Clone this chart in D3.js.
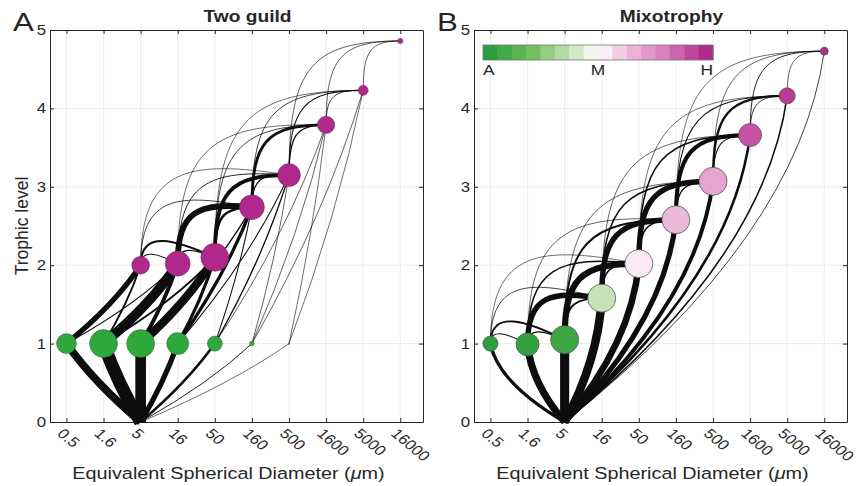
<!DOCTYPE html>
<html>
<head>
<meta charset="utf-8">
<script src="https://cdn.jsdelivr.net/npm/d3@7"></script>
<style>
  body { margin: 0; background: #fff; }
  svg { display: block; }
  text { font-family: "Liberation Sans", Arial, Helvetica, sans-serif; fill: #262626; }
</style>
</head>
<body>
<svg id="fig" width="857" height="486"></svg>
<script>
// ---- size classes (equivalent spherical diameter, µm), half-decade steps ----
const sizeLabels = ["0.5", "1.6", "5", "16", "50", "160", "500", "1600", "5000", "16000"];
const sizeValues = sizeLabels.map((_, i) => 0.5 * Math.pow(10, i / 2));
const levelTicks = [0, 1, 2, 3, 4, 5];

// nutrient source: drawn under the 5 µm class at trophic level 0
const sourceClass = 2;
const sourceLevel = 0;

// ---- Two guild model ----
// autotrophs (classes 0..6)
const autoClass   = [0, 1, 2, 3, 4, 5, 6];
const autoLevel   = [1, 1, 1, 1, 1, 1, 1];
const autoBiomass = [0.51, 1.0, 1.0, 0.62, 0.29, 0.03, 0.004];
// heterotrophs (classes 2..9)
const hetClass    = [2, 3, 4, 5, 6, 7, 8, 9];
const hetLevel    = [2.0, 2.02, 2.1, 2.74, 3.15, 3.79, 4.23, 4.86];
const hetBiomass  = [0.41, 0.8, 1.0, 0.8, 0.67, 0.39, 0.13, 0.035];

// nutrient uptake: [autotroph class, flux]
const guildUptake = [[0, 0.6], [1, 1.0], [2, 0.82], [3, 0.4], [4, 0.2], [5, 0.07], [6, 0.03]];
// grazing on autotrophs: [prey class, predator class, flux]
const guildGrazeAuto = [
  [0, 2, 0.4], [0, 3, 0.08],
  [1, 2, 0.15], [1, 3, 0.75], [1, 4, 0.15],
  [2, 3, 0.3], [2, 4, 0.65], [2, 5, 0.1],
  [3, 4, 0.25], [3, 5, 0.25], [3, 6, 0.08],
  [4, 5, 0.08], [4, 6, 0.1], [4, 7, 0.05],
  [5, 6, 0.05], [5, 7, 0.05], [5, 8, 0.05],
  [6, 7, 0.04], [6, 8, 0.04]
];
// grazing on heterotrophs: [prey class, predator class, flux]
const guildGrazeHet = [
  [2, 3, 0.08], [2, 4, 0.15], [2, 5, 0.06], [2, 6, 0.04],
  [3, 4, 0.1], [3, 5, 0.45], [3, 6, 0.07], [3, 7, 0.04],
  [4, 5, 0.2], [4, 6, 0.3], [4, 7, 0.06], [4, 8, 0.04],
  [5, 6, 0.1], [5, 7, 0.22], [5, 8, 0.06],
  [6, 7, 0.1], [6, 8, 0.08], [6, 9, 0.05],
  [7, 8, 0.06], [7, 9, 0.05],
  [8, 9, 0.05]
];

// ---- Mixotrophy model (classes 0..9) ----
const mixLevel    = [1.0, 0.99, 1.05, 1.58, 2.02, 2.58, 3.07, 3.66, 4.16, 4.73];
const mixBiomass  = [0.29, 0.67, 1.0, 1.0, 1.0, 1.0, 1.0, 0.67, 0.33, 0.08];
// trophic strategy: 0 = autotroph, 0.5 = mixotroph, 1 = heterotroph
const mixStrategy = [0.03, 0.05, 0.08, 0.38, 0.54, 0.64, 0.69, 0.88, 0.93, 0.96];
// nutrient uptake: [class, flux]
const mixUptake = [[0, 0.25], [1, 0.55], [2, 0.7], [3, 0.65], [4, 0.5], [5, 0.4], [6, 0.3], [7, 0.2], [8, 0.12], [9, 0.06]];
// grazing: [prey class, predator class, flux]
const mixGraze = [
  [0, 1, 0.08], [0, 2, 0.15], [0, 3, 0.06], [0, 4, 0.04],
  [1, 2, 0.1], [1, 3, 0.42], [1, 4, 0.12], [1, 5, 0.05],
  [2, 3, 0.15], [2, 4, 0.48], [2, 5, 0.15], [2, 6, 0.05],
  [3, 4, 0.12], [3, 5, 0.42], [3, 6, 0.12], [3, 7, 0.05],
  [4, 5, 0.12], [4, 6, 0.42], [4, 7, 0.12], [4, 8, 0.04],
  [5, 6, 0.1], [5, 7, 0.32], [5, 8, 0.08], [5, 9, 0.04],
  [6, 7, 0.08], [6, 8, 0.18], [6, 9, 0.05],
  [7, 8, 0.06], [7, 9, 0.07],
  [8, 9, 0.05]
];

// colour bar
const strategyStops  = [0, 0.2, 0.4, 0.5, 0.6, 0.8, 1];
const strategyColors = ["#1f9a38", "#6bbb55", "#cfe7bf", "#ffffff", "#f2c9e2", "#d678b9", "#ab1a84"];
const barLabels = ["A", "M", "H"];
const barBands = 16;

const autoColor = "#2ea83a";
const hetColor  = "#b0288c";

// ---- layout ----
const svg = d3.select("#fig");
const plotTop = 30, plotBottom = 422, plotW = 373;
const panelLeft = [50, 474];
const stretch = 1.2;   // typeface runs slightly wide

const x = d3.scaleLog().domain([0.3, 32000]).range([0, plotW]);
const y = d3.scaleLinear().domain([0, 5]).range([plotBottom, plotTop]);
const radius = d3.scaleSqrt().domain([0, 1]).range([0, 14]);
const width = d3.scaleLinear().domain([0, 1]).range([0, 13]);
const strategyColor = d3.scaleLinear().domain(strategyStops).range(strategyColors).interpolate(d3.interpolateRgb);

const pos = (cls, lvl) => ({ x: x(sizeValues[cls]), y: y(lvl) });

// text placed at (tx, ty), widened horizontally
function label(g, tx, ty, str, size, anchor = "start", weight = "normal") {
  return g.append("text")
    .attr("transform", `translate(${tx},${ty}) scale(${stretch},1)`)
    .attr("text-anchor", anchor)
    .style("font-size", size + "px").style("font-weight", weight)
    .text(str);
}

// uptake-style link: quadratic curve turning vertical toward the consumer
function bentPath(p, q, bend) {
  const dx = q.x - p.x;
  const path = d3.path();
  path.moveTo(p.x, p.y);
  path.quadraticCurveTo(p.x + dx * (0.5 + 0.5 * bend), (p.y + q.y) / 2, q.x, q.y);
  return path.toString();
}
// predation arch: rises vertically from the prey, reaches the predator horizontally
function archPath(p, q) {
  const dx = q.x - p.x, dy = p.y - q.y, adx = Math.abs(dx);
  const ratio = adx > 0 ? Math.min(1, Math.max(0, dy) / adx) : 1;
  const lift = 0.45 * adx * (1 - ratio);
  const path = d3.path();
  path.moveTo(p.x, p.y);
  path.bezierCurveTo(p.x, p.y - 0.8 * Math.max(dy, 0) - lift,
                     q.x - dx * (0.5 + 0.3 * ratio), q.y - 0.6 * lift,
                     q.x, q.y);
  return path.toString();
}

function drawFrame(g, title, letter) {
  // light grid
  const grid = g.append("g").attr("stroke", "#ececec").attr("stroke-width", 1);
  sizeValues.forEach(v => grid.append("line").attr("x1", x(v)).attr("x2", x(v)).attr("y1", plotTop).attr("y2", plotBottom));
  levelTicks.slice(1, -1).forEach(v => grid.append("line").attr("x1", 0).attr("x2", plotW).attr("y1", y(v)).attr("y2", y(v)));

  // axes with inward ticks on all four sides
  const axB = d3.axisBottom(x).tickValues(sizeValues).tickSizeInner(-4).tickSizeOuter(0).tickFormat("");
  const axT = d3.axisTop(x).tickValues(sizeValues).tickSizeInner(-4).tickSizeOuter(0).tickFormat("");
  const axL = d3.axisLeft(y).tickValues(levelTicks).tickSizeInner(-4).tickSizeOuter(0).tickFormat("");
  const axR = d3.axisRight(y).tickValues(levelTicks).tickSizeInner(-4).tickSizeOuter(0).tickFormat("");
  const style = sel => sel.selectAll("path,line").attr("stroke", "#262626");
  g.append("g").attr("transform", `translate(0,${plotBottom})`).call(axB).call(style);
  g.append("g").attr("transform", `translate(0,${plotTop})`).call(axT).call(style);
  g.append("g").call(axL).call(style);
  g.append("g").attr("transform", `translate(${plotW},0)`).call(axR).call(style);

  // trophic level labels
  levelTicks.forEach(v => label(g, -4, y(v) + 5, d3.format("d")(v), 14, "end"));

  // rotated size labels
  g.append("g").selectAll("text").data(sizeValues).join("text")
    .attr("transform", v => `translate(${x(v) - 6},${plotBottom + 9}) scale(${stretch},1) rotate(45)`)
    .attr("dominant-baseline", "central")
    .style("font-size", "14px")
    .text((v, i) => sizeLabels[i]);

  // axis title with italic mu
  const xt = label(g, plotW / 2 - 8, 479, "", 16.5, "middle");
  xt.append("tspan").text("Equivalent Spherical Diameter (");
  xt.append("tspan").style("font-style", "italic").text("μ");
  xt.append("tspan").text("m)");

  label(g, plotW / 2 + 11, 22, title, 16, "middle", "bold");
  label(g, -37, 31, letter, 26, "start");
}

// ---- Panel A: Two guild ----
const gA = svg.append("g").attr("transform", `translate(${panelLeft[0]},0)`);
drawFrame(gA, "Two guild", "A");
gA.append("text").attr("transform", `translate(-22,${(plotTop + plotBottom) / 2}) rotate(-90)`)
  .attr("text-anchor", "middle").style("font-size", "17.5px").text("Trophic level");

const src = pos(sourceClass, sourceLevel);
const autoPos = cls => pos(cls, autoLevel[autoClass.indexOf(cls)]);
const hetPos = cls => pos(cls, hetLevel[hetClass.indexOf(cls)]);

const linksA = gA.append("g").attr("fill", "none").attr("stroke", "#0d0d0d");
guildUptake.forEach(([c, f]) => linksA.append("path")
  .attr("d", bentPath(src, autoPos(c), 0.25)).attr("stroke-width", Math.max(0.6, width(f))));
guildGrazeAuto.forEach(([a, b, f]) => linksA.append("path")
  .attr("d", bentPath(autoPos(a), hetPos(b), 0.3)).attr("stroke-width", Math.max(0.6, width(f))));
guildGrazeHet.forEach(([a, b, f]) => linksA.append("path")
  .attr("d", archPath(hetPos(a), hetPos(b))).attr("stroke-width", Math.max(0.6, width(f))));

const nodesA = gA.append("g").attr("stroke", "#3a3a3a").attr("stroke-width", 0.6).attr("stroke-opacity", 0.6);
autoClass.forEach((c, i) => {
  const p = pos(c, autoLevel[i]);
  nodesA.append("circle").attr("cx", p.x).attr("cy", p.y).attr("r", radius(autoBiomass[i])).attr("fill", autoColor);
});
hetClass.forEach((c, i) => {
  const p = pos(c, hetLevel[i]);
  nodesA.append("circle").attr("cx", p.x).attr("cy", p.y).attr("r", radius(hetBiomass[i])).attr("fill", hetColor);
});

// ---- Panel B: Mixotrophy ----
const gB = svg.append("g").attr("transform", `translate(${panelLeft[1]},0)`);
drawFrame(gB, "Mixotrophy", "B");

const mixPos = cls => pos(cls, mixLevel[cls]);
const linksB = gB.append("g").attr("fill", "none").attr("stroke", "#0d0d0d");
mixUptake.forEach(([c, f]) => linksB.append("path")
  .attr("d", bentPath(src, mixPos(c), 0.8)).attr("stroke-width", Math.max(0.6, width(f))));
mixGraze.forEach(([a, b, f]) => linksB.append("path")
  .attr("d", archPath(mixPos(a), mixPos(b))).attr("stroke-width", Math.max(0.6, width(f))));

const nodesB = gB.append("g").attr("stroke", "#555").attr("stroke-width", 0.8);
mixLevel.forEach((lvl, c) => {
  const p = pos(c, lvl);
  nodesB.append("circle").attr("cx", p.x).attr("cy", p.y).attr("r", radius(mixBiomass[c])).attr("fill", strategyColor(mixStrategy[c]));
});

// colour bar (banded)
const barX = 9, barY = 45, barW = 230, barH = 15;
const bar = gB.append("g");
const bandW = barW / barBands;
d3.range(barBands).forEach(i => bar.append("rect")
  .attr("x", barX + i * bandW).attr("y", barY).attr("width", bandW + 0.5).attr("height", barH)
  .attr("fill", strategyColor((i + 0.5) / barBands)));
bar.append("rect").attr("x", barX).attr("y", barY).attr("width", barW).attr("height", barH)
  .attr("fill", "none").attr("stroke", "#777").attr("stroke-width", 0.8);
barLabels.forEach((d, i) => label(bar, barX + i * barW / 2, barY + 30, d, 14.5, ["start", "middle", "end"][i]));
</script>
</body>
</html>
